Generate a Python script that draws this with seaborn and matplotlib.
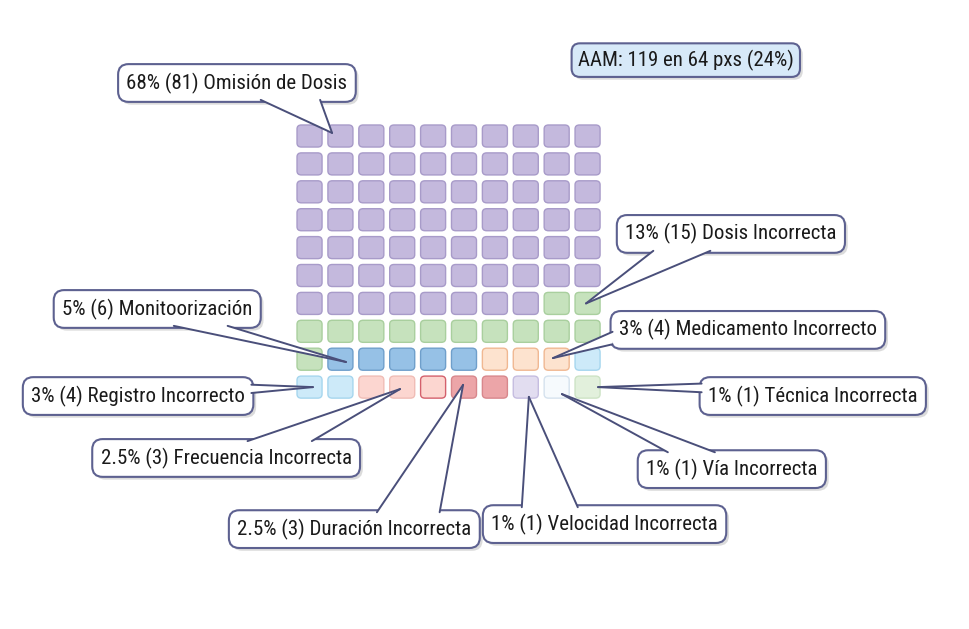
import numpy as np
import matplotlib.pyplot as plt
import seaborn as sns
from matplotlib import font_manager as fm
from matplotlib import patheffects as pe
from matplotlib.patches import FancyBboxPatch, Polygon

sns.set_theme(style="white")
instaladas = {f.name for f in fm.fontManager.ttflist}
fuente = next(f for f in ['Roboto Condensed', 'Archivo Narrow', 'PT Sans Narrow', 'DejaVu Sans']
              if f in instaladas)
plt.rcParams['font.family'] = [fuente, 'DejaVu Sans']

# datos del gráfico de gofre (10 x 10 celdas)
categorias = ["Omisión de Dosis", "Dosis Incorrecta", "Monitoorización",
              "Medicamento Incorrecto", "Registro Incorrecto", "Frecuencia Incorrecta",
              "Duración Incorrecta", "Velocidad Incorrecta", "Vía Incorrecta",
              "Técnica Incorrecta"]
porcentajes = ["68%", "13%", "5%", "3%", "3%", "2.5%", "2.5%", "1%", "1%", "1%"]
conteos = [81, 15, 6, 4, 4, 3, 3, 1, 1, 1]
celdas = [68, 13, 5, 3, 3, 2.5, 2.5, 1, 1, 1]
relleno = ["#c4b9dd", "#c6e2bd", "#96c1e6", "#fde3cf", "#cdeaf9",
           "#fcd6d0", "#eca5a8", "#e2ddf0", "#f6fafd", "#e2f0dc"]
borde = ["#a89bc9", "#a9cf9e", "#6f9fcb", "#f0b892", "#a6d6ee",
         "#f0bdb6", "#d8878c", "#c5bde0", "#d5e2ee", "#cde3c5"]
resumen = "AAM: 119 en 64 pxs (24%)"

n_cols = 10

fig = plt.figure(figsize=(9.7, 6.29), dpi=100)
ax = fig.add_axes([0, 0, 1, 1])
ax.set_xlim(-10.02, 21.38)
ax.set_ylim(17.67, -4.875)
ax.axis('off')

# dibujar celdas
limites = np.cumsum(celdas)
w, h = 0.81, 0.79
for i in range(100):
    fila, col = divmod(i, n_cols)
    k = int(np.searchsorted(limites, i + 0.5))
    fc, ec = relleno[k], borde[k]
    # celda compartida entre dos categorías (medias celdas)
    if i + 1 > limites[k] and k + 1 < len(limites):
        ec = "#d4606c"
    ax.add_patch(FancyBboxPatch((col - w / 2, fila - h / 2), w, h,
                                boxstyle="round,pad=0,rounding_size=0.14",
                                fc=fc, ec=ec, lw=1.0))

# etiquetas: posición del texto y punta de la cola
posiciones = [(-2.35, -1.90, 0.73, -0.11),
              (13.64, 3.51, 8.95, 6.0),
              (-4.93, 6.20, 1.18, 8.10),
              (14.19, 6.95, 7.88, 7.96),
              (-5.55, 9.32, 0.11, 9.00),
              (-2.70, 11.54, 2.93, 9.07),
              (1.45, 14.09, 4.97, 8.92),
              (9.55, 13.91, 7.10, 9.35),
              (13.67, 11.94, 8.17, 9.25),
              (16.29, 9.32, 9.34, 9.00)]
# base de la cola: lado de la caja y fracciones a lo largo del lado
colas = [('abajo', 0.60, 0.85),
         ('abajo', 0.16, 0.41),
         ('abajo', 0.58, 0.84),
         ('izq', 0.55, 0.88),
         ('der', 0.20, 0.42),
         ('arriba', 0.58, 0.82),
         ('arriba', 0.59, 0.84),
         ('arriba', 0.16, 0.39),
         ('arriba', 0.16, 0.41),
         ('izq', 0.17, 0.40)]

sombra = [pe.SimplePatchShadow(offset=(2, -2), shadow_rgbFace='#9a9a9a', alpha=0.35),
          pe.Normal()]

textos = []
for cat, p, c, (tx, ty, px, py) in zip(categorias, porcentajes, conteos, posiciones):
    t = ax.text(tx, ty, f"{p} ({c}) {cat}", ha='center', va='center', fontsize=15,
                color='#1a1a1a', zorder=3,
                bbox=dict(boxstyle="round,pad=0.4,rounding_size=0.5",
                          fc='white', ec='#5d6190', lw=1.5))
    t.get_bbox_patch().set_path_effects(sombra)
    textos.append(t)

ta = ax.text(12.18, -2.72, resumen, ha='center', va='center', fontsize=15, color='#1a1a1a',
             bbox=dict(boxstyle="round,pad=0.3,rounding_size=0.4",
                       fc='#d7e9f8', ec='#5d6190', lw=1.5))
ta.get_bbox_patch().set_path_effects(sombra)

# colas de los globos (en coordenadas de pantalla, pasadas a datos)
fig.canvas.draw()
inv = ax.transData.inverted()
m = 2.0
for t, (lado, f0, f1), (tx, ty, px, py) in zip(textos, colas, posiciones):
    bb = t.get_bbox_patch().get_window_extent()
    if lado == 'abajo':
        base = [(bb.x0 + f * bb.width, bb.y0 + m) for f in (f0, f1)]
    elif lado == 'arriba':
        base = [(bb.x0 + f * bb.width, bb.y1 - m) for f in (f0, f1)]
    elif lado == 'izq':
        base = [(bb.x0 + m, bb.y1 - f * bb.height) for f in (f0, f1)]
    else:
        base = [(bb.x1 - m, bb.y1 - f * bb.height) for f in (f0, f1)]
    b0, b1 = inv.transform(base)
    ax.add_patch(Polygon([b0, b1, (px, py)], closed=True, fc='white', ec='none', zorder=4))
    for b in (b0, b1):
        ax.plot([b[0], px], [b[1], py], color='#4a4f7a', lw=1.4, zorder=5,
                solid_capstyle='round')

plt.savefig('out.png', dpi=100)
